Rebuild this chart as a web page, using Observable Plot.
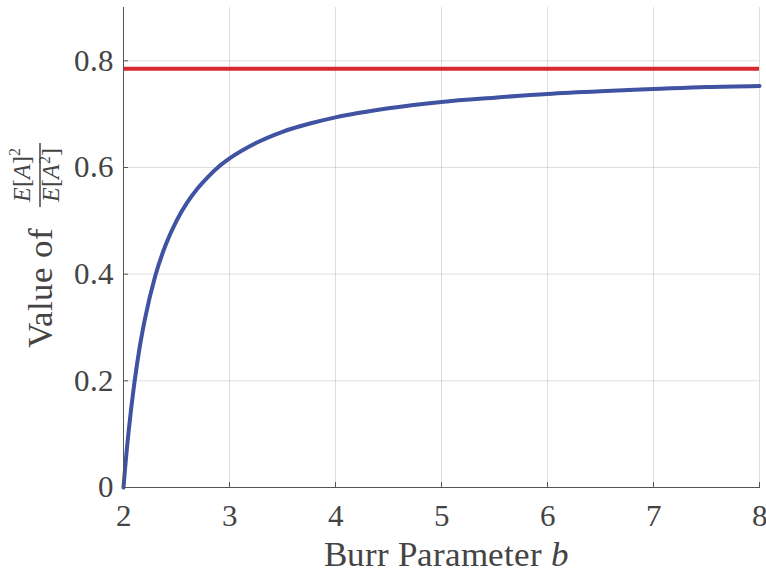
<!DOCTYPE html>
<html>
<head>
<meta charset="utf-8">
<script src="https://cdn.jsdelivr.net/npm/d3@7"></script>
<script src="https://cdn.jsdelivr.net/npm/@observablehq/plot@0.6"></script>
<style>
  @font-face {
    font-family: "ChartSerif";
    font-style: normal;
    font-weight: 400;
    src: local("Liberation Serif"), local("LiberationSerif"), local("LiberationSerif-Regular"),
         local("DejaVu Serif"), local("DejaVuSerif");
  }
  @font-face {
    font-family: "ChartSerif";
    font-style: italic;
    font-weight: 400;
    src: local("Liberation Serif Italic"), local("LiberationSerif-Italic"),
         local("DejaVu Serif Italic"), local("DejaVuSerif-Italic");
  }
  html, body { margin: 0; padding: 0; background: #fff; }
  #chart svg { display: block; }
  #chart text, #chart tspan { font-family: "ChartSerif", "Liberation Serif", "DejaVu Serif", serif; }
</style>
</head>
<body>
<div id="chart"></div>
<script>
// ---- data ----
const bValues = [2, 2.01, 2.02, 2.05, 2.1, 2.15, 2.2, 2.3, 2.4, 2.5, 2.6, 2.7, 2.8, 2.9, 3, 3.25, 3.5, 3.75, 4, 4.5, 5, 5.5, 6, 6.5, 7, 7.5, 8];
const ratioValues = [0, 0.024, 0.047, 0.108, 0.192, 0.260, 0.314, 0.397, 0.456, 0.500, 0.534, 0.561, 0.583, 0.602, 0.617, 0.646, 0.667, 0.682, 0.694, 0.711, 0.723, 0.731, 0.738, 0.743, 0.747, 0.751, 0.753];
const limitValue = [0.785];
const xTicks = [2, 3, 4, 5, 6, 7, 8];
const xTickLabels = ["2", "3", "4", "5", "6", "7", "8"];
const yTicks = [0, 0.2, 0.4, 0.6, 0.8];
const yTickLabels = ["0", "0.2", "0.4", "0.6", "0.8"];
const xLabelText = "Burr Parameter ";
const xLabelVar = "b";
const yLabelText = "Value of";

// ---- prime the serif font lookups ----
const candidates = ["Liberation Serif", "DejaVu Serif", "Times New Roman", "Times", "Tinos", "serif"];
const ctx = document.createElement("canvas").getContext("2d");
candidates.forEach(c => { ctx.font = "40px '" + c + "'"; ctx.measureText("Value of 0.8"); ctx.font = "italic 40px '" + c + "'"; ctx.measureText("Eb"); });

// ---- layout ----
const W = 766, H = 573;
const mL = 123, mR = 7, mT = 7, mB = 86;
const frameW = W - mL - mR, frameH = H - mT - mB;
const tickLen = 5;
const textColor = "#444";
const axisColor = "#555";
const font = "ChartSerif, 'Liberation Serif', 'DejaVu Serif', serif";

function render() {
  const data = bValues.map((b, i) => ({b, r: ratioValues[i]}));

  const plot = Plot.plot({
    width: W, height: H,
    marginLeft: mL, marginRight: mR, marginTop: mT, marginBottom: mB,
    style: {fontFamily: font, fontSize: "31px", color: textColor, background: "#fff", overflow: "visible"},
    x: {domain: [2, 8]},
    y: {domain: [0, 0.9]},
    marks: [
      Plot.gridX(xTicks, {stroke: "#000", strokeOpacity: 0.13}),
      Plot.gridY(yTicks, {stroke: "#000", strokeOpacity: 0.13}),
      Plot.ruleY(limitValue, {stroke: "#d7282f", strokeWidth: 4}),
      Plot.line(data, {x: "b", y: "r", stroke: "#4052a2", strokeWidth: 4, curve: "monotone-x"}),
      Plot.axisX(xTicks, {tickSize: 0, tickPadding: 16, tickFormat: (d, i) => xTickLabels[i], label: null, fill: textColor}),
      Plot.axisY(yTicks, {tickSize: 0, tickPadding: 10, tickFormat: (d, i) => yTickLabels[i], label: null, fill: textColor}),
      Plot.tickX(xTicks, {x: d => d, insetTop: frameH - tickLen, stroke: axisColor}),
      Plot.tickY(yTicks, {y: d => d, insetRight: frameW - tickLen, stroke: axisColor}),
      Plot.frame({anchor: "left", stroke: axisColor}),
      Plot.frame({anchor: "bottom", stroke: axisColor})
    ]
  });

  const svg = d3.select(plot);

  // x label with italic variable
  const xl = svg.append("text")
    .attr("x", 446).attr("y", 566)
    .attr("text-anchor", "middle")
    .attr("fill", textColor)
    .attr("font-family", font)
    .attr("font-size", 35);
  xl.append("tspan").text(xLabelText);
  xl.append("tspan").attr("font-style", "italic").text(xLabelVar);

  // y label: "Value of" + fraction E[A]^2 / E[A^2], rotated
  const g = svg.append("g")
    .attr("transform", "translate(52,348) rotate(-90)")
    .attr("fill", textColor)
    .attr("font-family", font);
  g.append("text").attr("text-anchor", "start").attr("font-size", 35).text(yLabelText);

  const fracCenter = 173;
  const num = g.append("text").attr("x", fracCenter).attr("y", -22).attr("text-anchor", "middle").attr("font-size", 24);
  num.append("tspan").attr("font-style", "italic").text("E");
  num.append("tspan").text("[");
  num.append("tspan").attr("font-style", "italic").text("A");
  num.append("tspan").text("]");
  num.append("tspan").attr("dy", -10).attr("font-size", 16).text("2");

  g.append("line")
    .attr("x1", fracCenter - 32).attr("x2", fracCenter + 32)
    .attr("y1", -12).attr("y2", -12)
    .attr("stroke", textColor).attr("stroke-width", 1.5);

  const den = g.append("text").attr("x", fracCenter).attr("y", 7).attr("text-anchor", "middle").attr("font-size", 24);
  den.append("tspan").attr("font-style", "italic").text("E");
  den.append("tspan").text("[");
  den.append("tspan").attr("font-style", "italic").text("A");
  den.append("tspan").attr("dy", -9).attr("font-size", 16).text("2");
  den.append("tspan").attr("dy", 9).text("]");

  document.getElementById("chart").replaceChildren(plot);
}

render();
if (document.fonts) {
  document.fonts.load("31px ChartSerif").then(render).catch(() => {});
  document.fonts.load("italic 31px ChartSerif").catch(() => {});
  document.fonts.ready.then(render);
}
setTimeout(render, 150);
</script>
</body>
</html>
